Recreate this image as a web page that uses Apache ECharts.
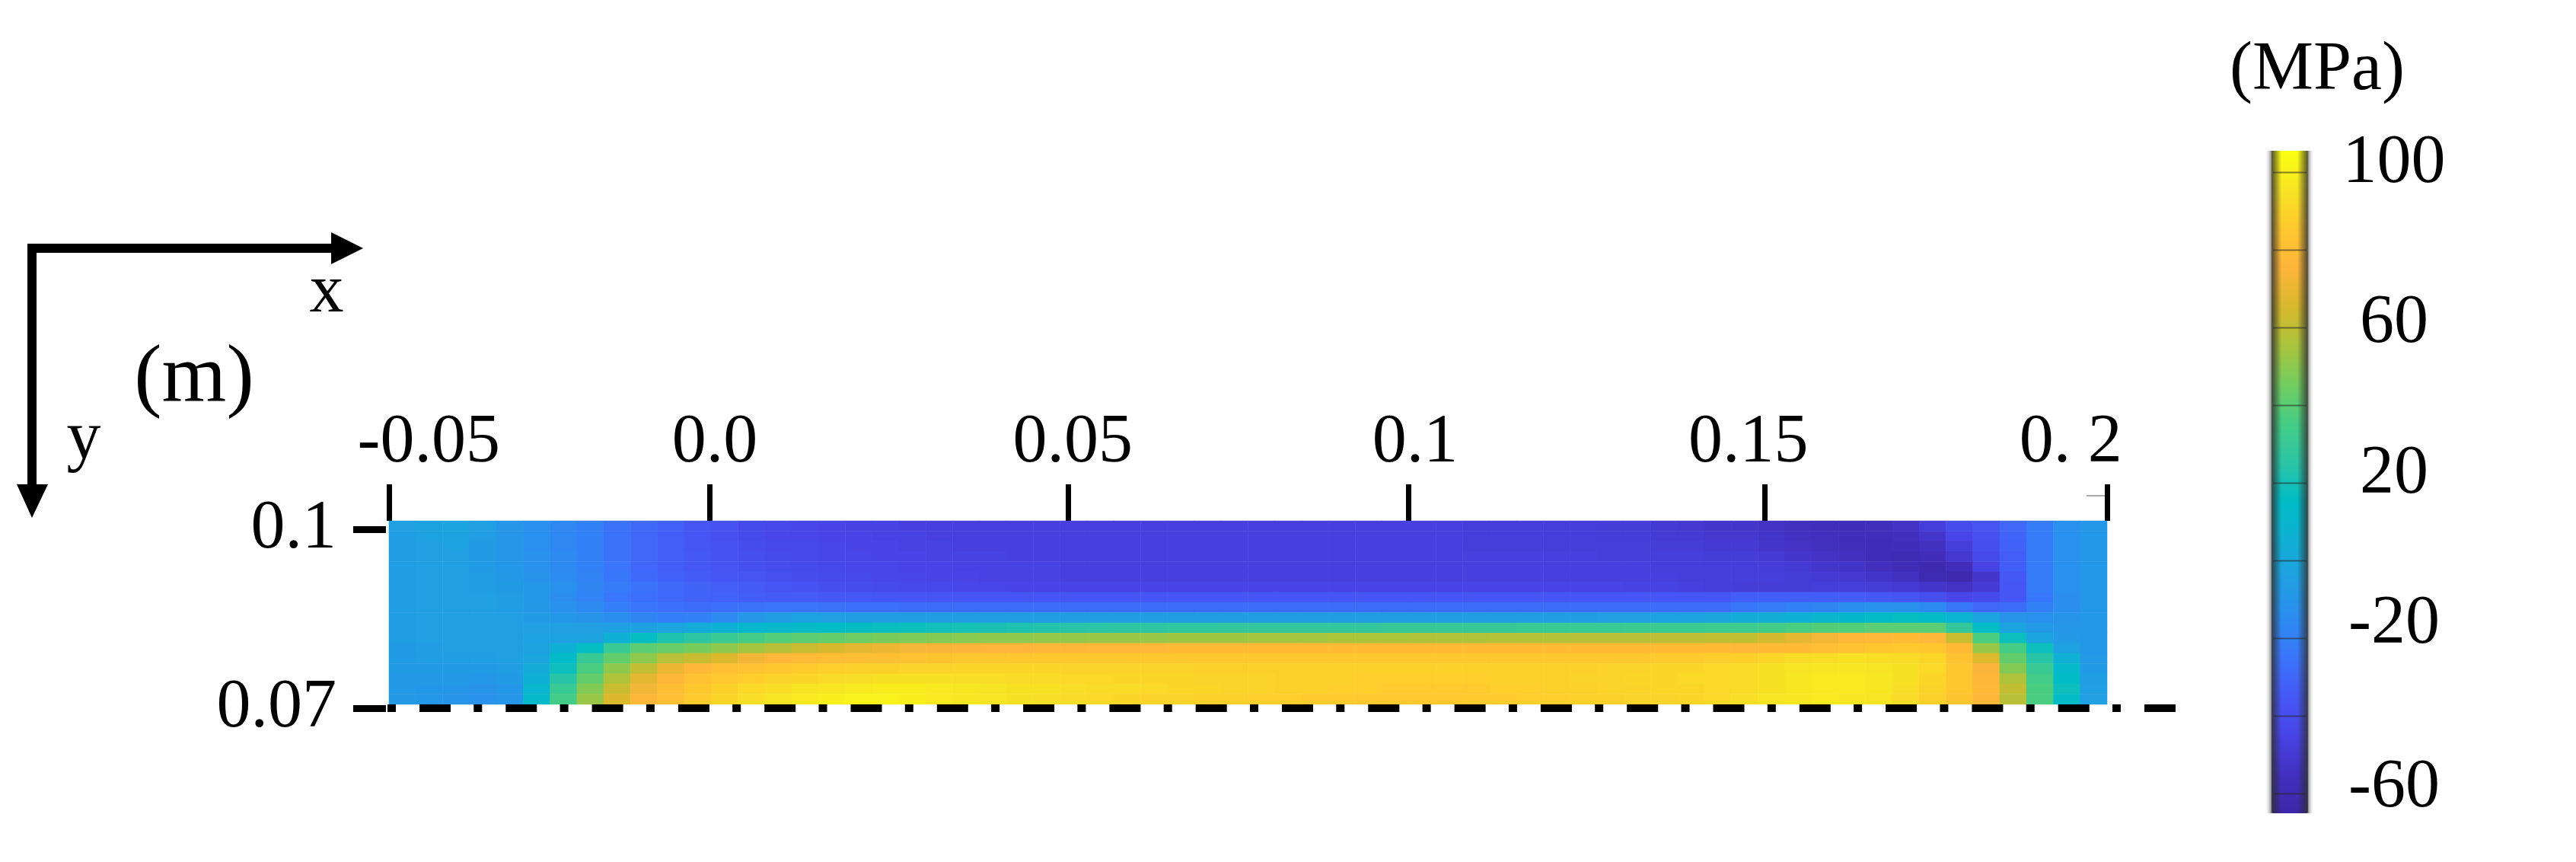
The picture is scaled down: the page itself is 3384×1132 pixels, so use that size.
<!DOCTYPE html>
<html>
<head>
<meta charset="utf-8">
<title>stress field</title>
<script src="https://cdn.jsdelivr.net/npm/echarts@6/dist/echarts.min.js"></script>
<style>
  html, body { margin: 0; background: #fff; }
  #main { width: 3384px; height: 1132px; }
</style>
</head>
<body>
<div id="main"></div>
<script>
// stress in MPa, one list per mesh row, top row first
var row00 = [-5,-3,-2,-5,-10,-13,-17,-20,-26,-29,-32,-36,-38,-42,-43, -44,-45,-46,-46,-47,-47,-47,-47,-47,-47,-47,-47,-47,-47,-47,-47,-47,-47,-47,-47,-47,-47,-47,-47,-47,-48,-48,-48,-48,-48,-49,-49,-50,-51,-52, -52,-54,-56,-57,-58,-57,-54,-48,-41,-37,-30,-22,-13,-9];
var row01 = [-6,-4,-3,-6,-10,-13,-17,-20,-26,-30,-33,-36,-39,-42,-44, -44,-45,-45,-46,-46,-47,-47,-47,-47,-47,-47,-47,-47,-47,-47,-47,-47,-47,-47,-47,-47,-47,-47,-47,-47,-48,-48,-48,-48,-48,-49,-49,-50,-50,-51, -51,-53,-55,-56,-58,-58,-56,-52,-45,-39,-31,-22,-13,-9];
var row02 = [-6,-5,-4,-7,-10,-13,-17,-20,-26,-30,-33,-36,-38,-41,-43, -43,-44,-45,-45,-46,-46,-47,-47,-47,-47,-47,-47,-47,-47,-47,-47,-47,-47,-47,-47,-47,-47,-47,-47,-47,-48,-48,-48,-48,-48,-48,-48,-49,-49,-50, -50,-52,-54,-55,-57,-59,-58,-55,-48,-40,-32,-22,-13,-9];
var row03 = [-6,-5,-5,-7,-10,-12,-16,-20,-26,-30,-33,-35,-38,-40,-42, -43,-44,-44,-45,-45,-46,-46,-46,-47,-47,-47,-47,-47,-47,-47,-47,-47,-47,-47,-47,-47,-47,-47,-47,-47,-47,-47,-47,-47,-47,-48,-48,-48,-48,-49, -49,-50,-52,-54,-56,-59,-60,-58,-51,-42,-33,-22,-13,-9];
var row04 = [-6,-5,-5,-7,-9,-12,-16,-20,-25,-30,-33,-35,-37,-39,-41, -42,-43,-44,-44,-45,-45,-46,-46,-46,-46,-47,-47,-47,-47,-47,-47,-47,-47,-47,-47,-47,-47,-47,-47,-47,-47,-47,-47,-47,-47,-47,-47,-48,-48,-48, -48,-49,-50,-52,-53,-56,-59,-62,-58,-46,-33,-22,-13,-9];
var row05 = [-6,-5,-5,-6,-8,-11,-15,-19,-24,-29,-32,-34,-36,-37,-39, -41,-42,-43,-44,-44,-45,-45,-46,-46,-46,-47,-47,-47,-47,-47,-47,-47,-47,-47,-47,-47,-47,-47,-47,-47,-47,-47,-47,-47,-47,-47,-47,-47,-48,-48, -48,-48,-49,-50,-51,-53,-55,-61,-62,-52,-35,-22,-13,-9];
var row06 = [-6,-5,-5,-6,-7,-9,-13,-18,-22,-26,-29,-31,-33,-34,-36, -38,-40,-41,-42,-43,-43,-44,-44,-45,-45,-45,-45,-45,-45,-45,-45,-45,-45,-45,-45,-45,-45,-45,-45,-45,-45,-45,-45,-45,-45,-45,-46,-46,-47,-48, -49,-49,-49,-48,-48,-49,-50,-52,-54,-50,-36,-22,-13,-9];
var row07 = [-6,-5,-5,-5,-6,-9,-14,-19,-24,-27,-29,-31,-32,-33,-34, -34,-35,-35,-36,-36,-36,-36,-36,-36,-36,-36,-36,-36,-36,-36,-36,-36,-36,-36,-36,-36,-36,-36,-36,-36,-36,-36,-36,-36,-36,-36,-36,-36,-36,-36, -33,-33,-33,-33,-34,-35,-37,-40,-44,-42,-36,-24,-14,-9];
var row08 = [-6,-5,-5,-5,-6,-8,-12,-16,-21,-25,-27,-28,-27,-26,-25, -25,-26,-27,-27,-28,-28,-28,-28,-28,-28,-28,-28,-28,-28,-28,-28,-28,-28,-28,-28,-28,-28,-28,-28,-28,-28,-28,-28,-28,-28,-28,-28,-28,-28,-28, -24,-22,-20,-18,-14,-12,-12,-16,-24,-30,-28,-20,-14,-9];
var row09 = [-6,-5,-5,-5,-5,-7,-9,-11,-14,-18,-21,-20,-16,-10,-6, -4,-5,-6,-6,-6,-6,-6,-6,-6,-6,-6,-6,-6,-6,-6,-6,-6,-6,-6,-6,-6,-6,-6,-6,-6,-6,-6,-6,-6,-6,-5,-5,-4,-3,-1, 2,4,6,9,11,14,16,14,8,-2,-11,-13,-11,-9];
var row10 = [-6,-5,-5,-5,-5,-5,-5,-5,-5,-4,-2,2,6,10,12, 14,15,16,17,18,19,20,21,22,23,24,25,26,26,27,27,28,28,28,28,28,28,29,29,29,29,29,30,30,30,30,31,31,31,32, 32,34,36,38,38,40,40,40,28,15,-2,-8,-10,-9];
var row11 = [-6,-5,-5,-5,-5,-4,-4,-3,6,16,22,26,30,34,38, 40,42,44,46,47,48,49,50,50,51,51,52,52,52,53,53,53,54,54,54,55,55,55,56,56,56,57,57,57,58,58,58,59,59,60, 60,64,68,72,76,77,78,76,62,36,18,-2,-8,-9];
var row12 = [-7,-6,-5,-5,-5,-3,6,16,30,40,43,46,50,54,58, 62,65,68,70,72,73,74,75,75,76,76,77,77,77,78,78,78,78,78,78,78,78,78,78,78,78,78,78,78,78,78,78,78,78,78, 77,78,78,80,82,84,85,84,78,52,35,18,-4,-9];
var row13 = [-7,-6,-6,-6,-5,-1,14,30,42,50,58,62,66,72,76, 78,79,80,81,82,83,84,84,85,85,85,85,85,85,85,85,85,85,85,85,85,85,85,85,85,85,85,85,85,85,85,85,86,86,87, 88,90,92,93,94,93,92,90,82,66,42,24,5,-8];
var row14 = [-7,-7,-7,-7,-6,2,18,36,50,60,70,76,80,82,84, 86,87,88,88,89,89,90,90,90,90,89,89,89,89,89,88,88,88,88,88,88,88,88,88,88,88,88,88,88,88,89,89,90,90,91, 92,94,95,96,96,95,94,91,84,74,48,30,12,-7];
var row15 = [-8,-8,-8,-9,-7,6,24,42,56,68,76,82,85,87,89, 90,92,93,94,94,94,93,93,92,92,91,91,90,90,90,89,89,89,88,88,88,87,87,87,87,87,88,88,88,89,89,90,90,91,91, 92,94,96,97,97,96,94,90,84,76,56,34,15,-6];
var row16 = [-8,-9,-10,-11,-9,9,30,48,62,72,79,85,88,91,93, 95,96,97,98,98,97,96,95,94,94,93,92,92,91,90,90,89,89,88,88,87,87,86,86,86,86,87,87,88,88,89,89,90,90,91, 92,94,96,97,97,96,93,89,84,77,60,36,18,-5];
var row17 = [-8,-9,-11,-12,-10,12,34,52,66,76,80,86,90,93,95, 97,99,100,100,99,97,96,95,94,93,92,91,90,89,89,88,88,87,87,86,86,85,85,85,85,86,86,87,87,88,88,89,89,90,91, 93,95,96,97,96,95,92,88,83,76,58,36,14,-5];
var stressRows = [row00,row01,row02,row03,row04,row05,row06,row07,row08,row09,row10,row11,row12,row13,row14,row15,row16,row17];

// colours of the bar, from -65 to 105 MPa
var barColors = ["#3d26a8","#4230c0","#4844e6","#4558f5","#3a75fb","#2c8cf0","#209fe2","#10b0d4","#00bcc6",
  "#2cc5a5","#45cd85","#72cd60","#aac43c","#d8b82c","#ffb53a","#fec82e","#f7e424","#fbff12"];
var barMin = -65;
var barMax = 105;

// x axis, the ticks and the labels were placed by hand in the original and do not line up
var xTickAt = [-0.05,-0.00335,0.0488,0.0983,0.1502,0.2];
var xLabelAt = [-0.0442,-0.0026,0.0495,0.0993,0.1478,0.1947];
var xLabels = ["-0.05","0.0","0.05","0.1","0.15","0. 2"];
var yTickAt = [0.07,0.1];
var yLabels = ["0.07","0.1"];
var barTickAt = [100,80,60,40,20,0,-20,-40,-60];
var barLabelAt = [102.2,61,22.1,-16.5,-58.6];
var barLabels = ["100","60","20","-20","-60"];
var centerLine = [[-0.05022,0.07],[0.21019,0.07]];

var serif = "Liberation Serif";

var cells = [];
var colIndex = [];
var rowIndex = [];
stressRows.forEach(function(row, r) {
  rowIndex.push(r);
  row.forEach(function(v, c) {
    cells.push([c, r, v]);
  });
});
stressRows[0].forEach(function(v, c) {
  colIndex.push(c);
});
var barTicks = barTickAt.map(function(v) {
  return [0.5, v];
});

var myChart = echarts.init(document.getElementById("main"));

var option = {
  animation: false,
  backgroundColor: "#fff",
  grid: [
    { left: 511, width: 2257, top: 684, height: 241 },
    { left: 509, width: 2351, top: 695, height: 235 },
    { left: 2984, width: 48, top: 198, height: 870 }
  ],
  xAxis: [
    { gridIndex: 0, type: "category", data: colIndex, show: false },
    {
      gridIndex: 1,
      type: "value",
      position: "top",
      offset: 11,
      min: -0.05022,
      max: 0.21019,
      splitLine: { show: false },
      axisLine: { show: false, onZero: false },
      axisTick: { show: true, customValues: xTickAt, length: 48, lineStyle: { color: "#000", width: 7 } },
      axisLabel: {
        customValues: xLabelAt,
        margin: 102,
        verticalAlign: "middle",
        fontFamily: serif,
        fontSize: 90,
        color: "#000",
        formatter: function(v) {
          return xLabels[xLabelAt.indexOf(v)];
        }
      }
    },
    { gridIndex: 2, type: "value", min: 0, max: 1, show: false }
  ],
  yAxis: [
    { gridIndex: 0, type: "category", data: rowIndex, inverse: true, show: false },
    {
      gridIndex: 1,
      type: "value",
      position: "left",
      offset: 2,
      min: 0.07,
      max: 0.1,
      splitLine: { show: false },
      axisLine: { show: false, onZero: false },
      axisTick: { show: true, customValues: yTickAt, length: 43, lineStyle: { color: "#000", width: 9 } },
      axisLabel: {
        customValues: yTickAt,
        margin: 65,
        padding: [8, 0, 0, 0],
        fontFamily: serif,
        fontSize: 90,
        color: "#000",
        formatter: function(v) {
          return yLabels[yTickAt.indexOf(v)];
        }
      }
    },
    {
      gridIndex: 2,
      type: "value",
      position: "right",
      min: barMin,
      max: 105.6,
      splitLine: { show: false },
      axisLine: { show: false, onZero: false },
      axisTick: { show: false },
      axisLabel: {
        customValues: barLabelAt,
        margin: 113,
        align: "center",
        fontFamily: serif,
        fontSize: 90,
        color: "#000",
        formatter: function(v) {
          return barLabels[barLabelAt.indexOf(v)];
        }
      }
    }
  ],
  visualMap: {
    type: "continuous",
    seriesIndex: 0,
    min: barMin,
    max: barMax,
    left: 2984,
    top: 198,
    padding: 0,
    itemWidth: 48,
    itemHeight: 870,
    calculable: false,
    hoverLink: false,
    inRange: { color: barColors }
  },
  series: [
    {
      type: "heatmap",
      xAxisIndex: 0,
      yAxisIndex: 0,
      data: cells,
      progressive: 0,
      itemStyle: { borderWidth: 0 }
    },
    {
      type: "line",
      xAxisIndex: 1,
      yAxisIndex: 1,
      data: centerLine,
      clip: false,
      silent: true,
      symbol: "none",
      z: 5,
      lineStyle: { color: "#000", width: 10, type: [11, 31, 41, 30.3], cap: "butt" }
    },
    {
      // tick lines across the colour bar
      type: "scatter",
      xAxisIndex: 2,
      yAxisIndex: 2,
      data: barTicks,
      silent: true,
      symbol: "rect",
      symbolSize: [44, 2],
      z: 20,
      itemStyle: { color: "rgba(40,40,40,0.7)" }
    }
  ],
  graphic: [
    // x / y arrows
    { type: "line", shape: { x1: 36, y1: 326, x2: 440, y2: 326 }, style: { stroke: "#000", lineWidth: 12 } },
    { type: "polygon", shape: { points: [[435, 305], [477, 326], [435, 347]] }, style: { fill: "#000" } },
    { type: "line", shape: { x1: 42, y1: 320, x2: 42, y2: 640 }, style: { stroke: "#000", lineWidth: 12 } },
    { type: "polygon", shape: { points: [[22, 636], [63, 636], [42, 680]] }, style: { fill: "#000" } },
    { type: "text", x: 429, y: 385, style: { text: "x", font: "90px '" + serif + "'", fill: "#000", align: "center", verticalAlign: "middle" } },
    { type: "text", x: 110, y: 578, style: { text: "y", font: "90px '" + serif + "'", fill: "#000", align: "center", verticalAlign: "middle" } },
    { type: "text", x: 255, y: 498, style: { text: "(m)", font: "109px '" + serif + "'", fill: "#000", align: "center", verticalAlign: "middle" } },
    { type: "text", x: 3044, y: 93, style: { text: "(MPa)", font: "90px '" + serif + "'", fill: "#000", align: "center", verticalAlign: "middle" } },
    // stray mark left of the last tick
    { type: "line", shape: { x1: 2741, y1: 651, x2: 2765, y2: 651 }, style: { stroke: "#555", lineWidth: 1 } },
    // soft dark edges of the bar
    {
      type: "rect", z: 100, shape: { x: 2975, y: 198, width: 22, height: 870 },
      style: { fill: new echarts.graphic.LinearGradient(0, 0, 1, 0, [
        { offset: 0, color: "rgba(255,255,255,0)" },
        { offset: 0.35, color: "rgba(150,150,150,0.8)" },
        { offset: 0.45, color: "rgba(50,50,50,0.8)" },
        { offset: 1, color: "rgba(40,40,40,0)" }
      ]) }
    },
    {
      type: "rect", z: 100, shape: { x: 3018, y: 198, width: 22, height: 870 },
      style: { fill: new echarts.graphic.LinearGradient(0, 0, 1, 0, [
        { offset: 0, color: "rgba(40,40,40,0)" },
        { offset: 0.6, color: "rgba(50,50,50,0.8)" },
        { offset: 0.68, color: "rgba(150,150,150,0.8)" },
        { offset: 1, color: "rgba(255,255,255,0)" }
      ]) }
    }
  ]
};
myChart.setOption(option);
</script>
</body>
</html>
